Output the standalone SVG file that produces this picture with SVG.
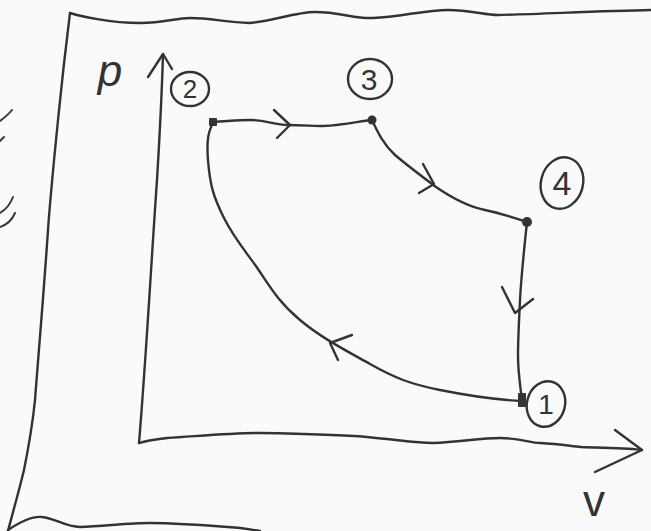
<svg xmlns="http://www.w3.org/2000/svg" width="651" height="531" viewBox="0 0 651 531">
<style>
.ink{fill:none;stroke:#333;stroke-width:2.4;stroke-linecap:round;stroke-linejoin:round}
.thin{fill:none;stroke:#3a3a3a;stroke-width:2;stroke-linecap:round;stroke-linejoin:round}
.dot{fill:#333}
.lbl{font-family:"Liberation Sans","DejaVu Sans",sans-serif;fill:#333;text-anchor:middle}
</style>
<rect width="651" height="531" fill="#fafafa"/>
<g id="frame">
<path class="ink" d="M70,13 C80,16 110,23 140,23 C165,23 175,18 190,18 C210,18 225,22 249,23 C270,22 295,12 315,12 C340,12 355,19 373,18 C400,17 425,10 448,10 C470,10 485,15 498,15 C540,14 600,11 651,10"/>
<path class="ink" d="M70,13 C66,45 62,80 58,120 C54,160 50,200 48,230 C44,290 38,360 35,400 C32,430 28,450 24,470 C18,495 12,515 8,531"/>
<path class="ink" d="M8,530 C20,522 32,516 42,517 C55,518 65,527 80,527 C105,526 130,523 150,523 C180,523 215,526 240,528 C248,529 254,530 260,531"/>
</g>
<g id="margin-marks">
<path class="thin" d="M12,110 C8,115 4,118 0,121"/>
<path class="thin" d="M4,137 L0,141"/>
<path class="thin" d="M13,197 C10,205 5,210 0,213"/>
<path class="thin" d="M15,213 C12,220 6,225 0,227"/>
</g>
<g id="axes">
<path class="ink" d="M139,443 C146,360 152,250 157,180 C160,130 162,90 163,54"/>
<path class="ink" d="M148,77 L163,54 L172,69"/>
<path class="ink" d="M139,443 C150,440 160,439 167,438 C200,436 230,433 260,433 C320,434 345,435 367,437 C400,440 415,443 433,443 C460,442 480,438 500,438 C520,438 530,443 540,443 C560,444 570,446 581,447 C605,448 630,448 642,450"/>
<path class="ink" d="M615,430 L642,450 L595,472"/>
<text class="lbl" x="110" y="86" font-size="44" font-style="italic">p</text>
<text class="lbl" x="594" y="516" font-size="44">v</text>
</g>
<g id="connectors">
<g id="c2-3">
<path class="ink" d="M213,122 C230,121 240,120 250,120 C265,120 275,125 288,125 C300,125 315,126 323,126 C345,125 360,121 372,120"/>
<path class="ink" d="M274,110 L290,125 L277,138"/>
</g>
<g id="c3-4">
<path class="ink" d="M372,120 C378,133 384,145 395,155 C408,166 420,175 436,187 C452,198 470,207 485,210 C500,213 515,218 527,222"/>
<path class="ink" d="M423,164 L434,184 L419,193"/>
</g>
<g id="c4-1">
<path class="ink" d="M527,222 C524,250 521,280 520,300 C519,320 518,340 518,355 C518,375 521,390 522,401"/>
<path class="ink" d="M502,287 L515,313 L533,299"/>
</g>
<g id="c1-2">
<path class="ink" d="M522,401 C500,400 470,396 440,390 S395,378 370,364 S320,337 300,320 S272,290 260,272 S235,240 224,218 S210,185 208,160 S210,130 213,122"/>
<path class="ink" d="M352,335 L330,343 L338,360"/>
</g>
</g>
<g id="node-2">
<rect class="dot" x="209" y="118" width="8" height="8" rx="1"/>
<ellipse class="ink" cx="190" cy="89" rx="19" ry="17"/>
<text class="lbl" x="190" y="98" font-size="26">2</text>
</g>
<g id="node-3">
<circle class="dot" cx="372" cy="120" r="4.5"/>
<ellipse class="ink" cx="370" cy="79" rx="22" ry="20"/>
<text class="lbl" x="369" y="90" font-size="30">3</text>
</g>
<g id="node-4">
<circle class="dot" cx="527" cy="222" r="5"/>
<ellipse class="ink" cx="562" cy="183" rx="21" ry="26" transform="rotate(15 562 183)"/>
<text class="lbl" x="562" y="195" font-size="34">4</text>
</g>
<g id="node-1">
<rect class="dot" x="518" y="393" width="8" height="14" rx="1"/>
<ellipse class="ink" cx="546" cy="404" rx="19" ry="23" transform="rotate(15 546 404)"/>
<text class="lbl" x="546" y="414" font-size="28">1</text>
</g>
</svg>
